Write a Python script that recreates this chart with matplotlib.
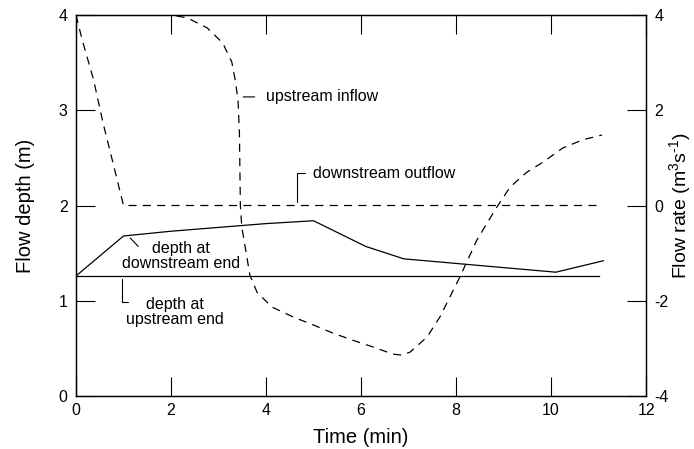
import matplotlib.pyplot as plt
import numpy as np

plt.rcParams['font.family'] = ['Liberation Sans', 'DejaVu Sans']
plt.rcParams['axes.unicode_minus'] = False
plt.rcParams['mathtext.fontset'] = 'custom'
plt.rcParams['mathtext.rm'] = 'Liberation Sans'
plt.rcParams['mathtext.it'] = 'Liberation Sans'

# Depth at downstream / upstream ends (m)
t_down = [0, 1.0, 2.0, 3.0, 4.0, 5.0, 6.1, 6.9, 10.1, 11.1]
d_down = [1.26, 1.68, 1.73, 1.77, 1.81, 1.84, 1.57, 1.44, 1.30, 1.42]
t_up = [0, 11.0]
d_up = [1.26, 1.26]

# Upstream inflow rate (m3/s)
t_in = [0, 0.5, 1.0, 1.5, 2.0, 2.34, 2.76, 3.09, 3.28, 3.35, 3.41, 3.44, 3.46,
        3.49, 3.66, 3.81, 4.12, 4.57, 5.0, 5.41, 5.83, 6.25, 6.67, 6.85, 7.03,
        7.39, 7.66, 8.08, 8.44, 8.86, 9.14, 9.49, 9.83, 10.25, 10.67, 11.07]
q_in = [4.0, 3.99, 4.0, 4.01, 4.0, 3.94, 3.73, 3.41, 3.01, 2.64, 2.22, 1.5, 0.0,
        -0.45, -1.46, -1.82, -2.13, -2.34, -2.51, -2.68, -2.83, -2.97, -3.12, -3.14, -3.08,
        -2.76, -2.34, -1.50, -0.72, -0.03, 0.39, 0.70, 0.91, 1.21, 1.38, 1.48]

# Downstream outflow rate (m3/s)
t_out = [0, 0.13, 0.37, 0.57, 0.78, 1.0, 11.0]
q_out = [4.0, 3.48, 2.64, 1.73, 0.89, 0.0, 0.0]

dash = (0, (6.5, 5))
lw = 0.9
fs_tick = 11.5
fs_lab = 14.5

fig = plt.figure(figsize=(6.94, 4.49), dpi=100)
ax = fig.add_axes([0.1095, 0.118, 0.8215, 0.8486])
ax2 = ax.twinx()

ax.plot(t_down, d_down, color='black', lw=lw)
ax.plot(t_up, d_up, color='black', lw=lw)
ax2.plot(t_in, q_in, color='black', lw=lw, linestyle=dash)
ax2.plot(t_out, q_out, color='black', lw=lw, linestyle=dash)

ax.set_xlim(0, 12)
ax.set_ylim(0, 4)
ax2.set_ylim(-4, 4)
ax.set_xticks(np.arange(0, 13, 2))
ax.set_yticks(np.arange(0, 5, 1))
ax2.set_yticks(np.arange(-4, 5, 2))

ax.tick_params(axis='x', direction='in', length=14, width=0.8, top=True,
               labelsize=fs_tick, pad=5)
ax.tick_params(axis='y', direction='in', length=14, width=0.8, labelsize=fs_tick, pad=6)
ax2.tick_params(axis='y', direction='in', length=14, width=0.8, labelsize=fs_tick, pad=6)
for a in (ax, ax2):
    for s in a.spines.values():
        s.set_linewidth(0.9)

ax.set_xlabel('Time (min)', fontsize=fs_lab, labelpad=7)
ax.set_ylabel('Flow depth (m)', fontsize=fs_lab, labelpad=17)
ax2.set_ylabel(r'Flow rate (m$^3$s$^{\text{-1}}$)', fontsize=14, labelpad=-1)

# annotations
arr = dict(arrowstyle='-', color='black', lw=0.8, shrinkA=0, shrinkB=0)
ax2.annotate('', xy=(3.52, 2.28), xytext=(3.76, 2.28), arrowprops=arr)
ax2.text(4.0, 2.28, 'upstream inflow', fontsize=fs_tick, va='center', ha='left')

ax2.annotate('', xy=(4.65, 0.07), xytext=(4.83, 0.68),
             arrowprops=dict(arr, connectionstyle='angle,angleA=0,angleB=90,rad=0'))
ax2.text(4.98, 0.68, 'downstream outflow', fontsize=fs_tick, va='center', ha='left')

ax.annotate('', xy=(1.14, 1.66), xytext=(1.31, 1.57), arrowprops=arr)
ax.text(2.21, 1.465, 'depth at\ndownstream end', fontsize=fs_tick, va='center',
        ha='center', linespacing=1.0)

ax.annotate('', xy=(0.97, 1.23), xytext=(1.10, 0.99),
            arrowprops=dict(arr, connectionstyle='angle,angleA=0,angleB=90,rad=0'))
ax.text(2.08, 0.887, 'depth at\nupstream end', fontsize=fs_tick, va='center',
        ha='center', linespacing=1.0)

fig.savefig('out.png', dpi=100)
